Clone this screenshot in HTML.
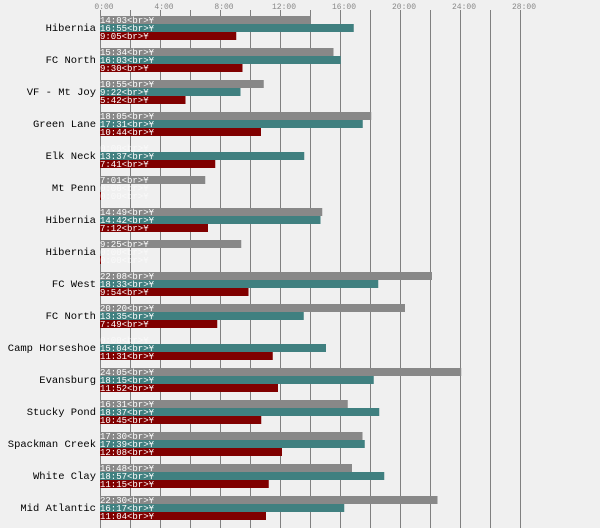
<!DOCTYPE html>
<html><head><meta charset="utf-8"><style>
body{margin:0;background:#f0f0f0}
svg{display:block}
.l{font:10.5px "Liberation Mono",monospace;fill:#000;text-anchor:end}
.t{font:8px "Liberation Mono",monospace;fill:#888;text-anchor:middle}
.b{font:9px "Liberation Mono",monospace;fill:#fff}
.z{font:9px "Liberation Mono",monospace;fill:#fff;opacity:.6}
</style></head><body>
<svg width="600" height="528" xmlns="http://www.w3.org/2000/svg">
<rect width="600" height="528" fill="#f0f0f0"/>
<g stroke="#808080" stroke-width="1">
<line x1="100.5" y1="10" x2="100.5" y2="528"/><line x1="130.5" y1="10" x2="130.5" y2="528"/><line x1="160.5" y1="10" x2="160.5" y2="528"/><line x1="190.5" y1="10" x2="190.5" y2="528"/><line x1="220.5" y1="10" x2="220.5" y2="528"/><line x1="250.5" y1="10" x2="250.5" y2="528"/><line x1="280.5" y1="10" x2="280.5" y2="528"/><line x1="310.5" y1="10" x2="310.5" y2="528"/><line x1="340.5" y1="10" x2="340.5" y2="528"/><line x1="370.5" y1="10" x2="370.5" y2="528"/><line x1="400.5" y1="10" x2="400.5" y2="528"/><line x1="430.5" y1="10" x2="430.5" y2="528"/><line x1="460.5" y1="10" x2="460.5" y2="528"/><line x1="490.5" y1="10" x2="490.5" y2="528"/><line x1="520.5" y1="10" x2="520.5" y2="528"/>
</g>
<text class="t" x="104" y="9">0:00</text><text class="t" x="164" y="9">4:00</text><text class="t" x="224" y="9">8:00</text><text class="t" x="284" y="9">12:00</text><text class="t" x="344" y="9">16:00</text><text class="t" x="404" y="9">20:00</text><text class="t" x="464" y="9">24:00</text><text class="t" x="524" y="9">28:00</text>

<g>
<rect x="100" y="16" width="210.75" height="8" fill="#888"/><rect x="100" y="24" width="253.75" height="8" fill="#408080"/><rect x="100" y="32" width="136.25" height="8" fill="#800000"/>
<text class="l" x="96" y="31">Hibernia</text>
<text class="b" x="100" y="23">14:03&lt;br&gt;Ұ</text><text class="b" x="100" y="31">16:55&lt;br&gt;Ұ</text><text class="b" x="100" y="39">9:05&lt;br&gt;Ұ</text>

<rect x="100" y="48" width="233.5" height="8" fill="#888"/><rect x="100" y="56" width="240.75" height="8" fill="#408080"/><rect x="100" y="64" width="142.5" height="8" fill="#800000"/>
<text class="l" x="96" y="63">FC North</text>
<text class="b" x="100" y="55">15:34&lt;br&gt;Ұ</text><text class="b" x="100" y="63">16:03&lt;br&gt;Ұ</text><text class="b" x="100" y="71">9:30&lt;br&gt;Ұ</text>

<rect x="100" y="80" width="163.75" height="8" fill="#888"/><rect x="100" y="88" width="140.5" height="8" fill="#408080"/><rect x="100" y="96" width="85.5" height="8" fill="#800000"/>
<text class="l" x="96" y="95">VF - Mt Joy</text>
<text class="b" x="100" y="87">10:55&lt;br&gt;Ұ</text><text class="b" x="100" y="95">9:22&lt;br&gt;Ұ</text><text class="b" x="100" y="103">5:42&lt;br&gt;Ұ</text>

<rect x="100" y="112" width="271.25" height="8" fill="#888"/><rect x="100" y="120" width="262.75" height="8" fill="#408080"/><rect x="100" y="128" width="161" height="8" fill="#800000"/>
<text class="l" x="96" y="127">Green Lane</text>
<text class="b" x="100" y="119">18:05&lt;br&gt;Ұ</text><text class="b" x="100" y="127">17:31&lt;br&gt;Ұ</text><text class="b" x="100" y="135">10:44&lt;br&gt;Ұ</text>

<rect x="100" y="152" width="204.25" height="8" fill="#408080"/><rect x="100" y="160" width="115.25" height="8" fill="#800000"/>
<text class="l" x="96" y="159">Elk Neck</text>
<text class="z" x="100" y="151">0:00&lt;br&gt;Ұ</text><text class="b" x="100" y="159">13:37&lt;br&gt;Ұ</text><text class="b" x="100" y="167">7:41&lt;br&gt;Ұ</text>

<rect x="100" y="176" width="105.25" height="8" fill="#888"/><rect x="100" y="192" width="1" height="8" fill="#800000"/>
<text class="l" x="96" y="191">Mt Penn</text>
<text class="b" x="100" y="183">7:01&lt;br&gt;Ұ</text><text class="z" x="100" y="191">0:00&lt;br&gt;Ұ</text><text class="z" x="100" y="199">0:00&lt;br&gt;Ұ</text>

<rect x="100" y="208" width="222.25" height="8" fill="#888"/><rect x="100" y="216" width="220.5" height="8" fill="#408080"/><rect x="100" y="224" width="108" height="8" fill="#800000"/>
<text class="l" x="96" y="223">Hibernia</text>
<text class="b" x="100" y="215">14:49&lt;br&gt;Ұ</text><text class="b" x="100" y="223">14:42&lt;br&gt;Ұ</text><text class="b" x="100" y="231">7:12&lt;br&gt;Ұ</text>

<rect x="100" y="240" width="141.25" height="8" fill="#888"/><rect x="100" y="256" width="1" height="8" fill="#800000"/>
<text class="l" x="96" y="255">Hibernia</text>
<text class="b" x="100" y="247">9:25&lt;br&gt;Ұ</text><text class="z" x="100" y="255">0:00&lt;br&gt;Ұ</text><text class="z" x="100" y="263">0:00&lt;br&gt;Ұ</text>

<rect x="100" y="272" width="332" height="8" fill="#888"/><rect x="100" y="280" width="278.25" height="8" fill="#408080"/><rect x="100" y="288" width="148.5" height="8" fill="#800000"/>
<text class="l" x="96" y="287">FC West</text>
<text class="b" x="100" y="279">22:08&lt;br&gt;Ұ</text><text class="b" x="100" y="287">18:33&lt;br&gt;Ұ</text><text class="b" x="100" y="295">9:54&lt;br&gt;Ұ</text>

<rect x="100" y="304" width="305" height="8" fill="#888"/><rect x="100" y="312" width="203.75" height="8" fill="#408080"/><rect x="100" y="320" width="117.25" height="8" fill="#800000"/>
<text class="l" x="96" y="319">FC North</text>
<text class="b" x="100" y="311">20:20&lt;br&gt;Ұ</text><text class="b" x="100" y="319">13:35&lt;br&gt;Ұ</text><text class="b" x="100" y="327">7:49&lt;br&gt;Ұ</text>

<rect x="100" y="344" width="226" height="8" fill="#408080"/><rect x="100" y="352" width="172.75" height="8" fill="#800000"/>
<text class="l" x="96" y="351">Camp Horseshoe</text>
<text class="z" x="100" y="343">0:00&lt;br&gt;Ұ</text><text class="b" x="100" y="351">15:04&lt;br&gt;Ұ</text><text class="b" x="100" y="359">11:31&lt;br&gt;Ұ</text>

<rect x="100" y="368" width="361.25" height="8" fill="#888"/><rect x="100" y="376" width="273.75" height="8" fill="#408080"/><rect x="100" y="384" width="178" height="8" fill="#800000"/>
<text class="l" x="96" y="383">Evansburg</text>
<text class="b" x="100" y="375">24:05&lt;br&gt;Ұ</text><text class="b" x="100" y="383">18:15&lt;br&gt;Ұ</text><text class="b" x="100" y="391">11:52&lt;br&gt;Ұ</text>

<rect x="100" y="400" width="247.75" height="8" fill="#888"/><rect x="100" y="408" width="279.25" height="8" fill="#408080"/><rect x="100" y="416" width="161.25" height="8" fill="#800000"/>
<text class="l" x="96" y="415">Stucky Pond</text>
<text class="b" x="100" y="407">16:31&lt;br&gt;Ұ</text><text class="b" x="100" y="415">18:37&lt;br&gt;Ұ</text><text class="b" x="100" y="423">10:45&lt;br&gt;Ұ</text>

<rect x="100" y="432" width="262.5" height="8" fill="#888"/><rect x="100" y="440" width="264.75" height="8" fill="#408080"/><rect x="100" y="448" width="182" height="8" fill="#800000"/>
<text class="l" x="96" y="447">Spackman Creek</text>
<text class="b" x="100" y="439">17:30&lt;br&gt;Ұ</text><text class="b" x="100" y="447">17:39&lt;br&gt;Ұ</text><text class="b" x="100" y="455">12:08&lt;br&gt;Ұ</text>

<rect x="100" y="464" width="252" height="8" fill="#888"/><rect x="100" y="472" width="284.25" height="8" fill="#408080"/><rect x="100" y="480" width="168.75" height="8" fill="#800000"/>
<text class="l" x="96" y="479">White Clay</text>
<text class="b" x="100" y="471">16:48&lt;br&gt;Ұ</text><text class="b" x="100" y="479">18:57&lt;br&gt;Ұ</text><text class="b" x="100" y="487">11:15&lt;br&gt;Ұ</text>

<rect x="100" y="496" width="337.5" height="8" fill="#888"/><rect x="100" y="504" width="244.25" height="8" fill="#408080"/><rect x="100" y="512" width="166" height="8" fill="#800000"/>
<text class="l" x="96" y="511">Mid Atlantic</text>
<text class="b" x="100" y="503">22:30&lt;br&gt;Ұ</text><text class="b" x="100" y="511">16:17&lt;br&gt;Ұ</text><text class="b" x="100" y="519">11:04&lt;br&gt;Ұ</text>
</g>
</svg>
</body></html>
